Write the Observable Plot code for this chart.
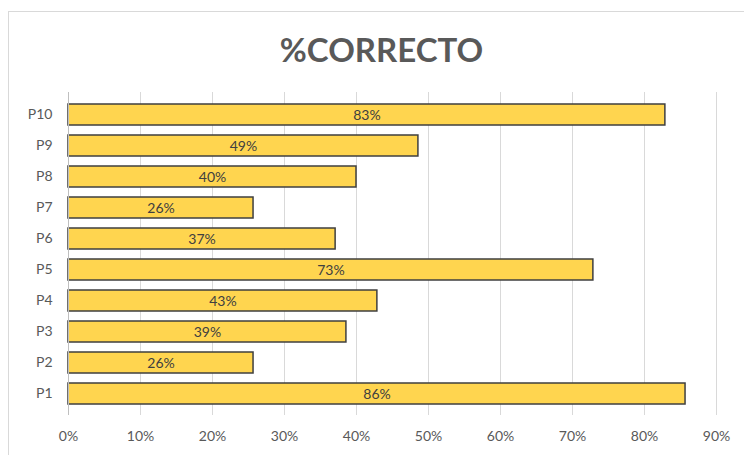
<!DOCTYPE html>
<html><head><meta charset="utf-8">
<script src="https://cdn.jsdelivr.net/npm/d3@7"></script>
<script src="https://cdn.jsdelivr.net/npm/@observablehq/plot@0.6"></script>
<style>
body{margin:0;background:#fff;}
#wrap{position:relative;width:744px;height:455px;overflow:hidden;font-family:Lato,"Open Sans",sans-serif;}
#frame{position:absolute;left:8px;top:11px;width:760px;height:460px;border:1px solid #d9d9d9;box-sizing:border-box;}
#title{position:absolute;left:0;width:763px;top:29px;text-align:center;font-size:33px;line-height:40px;font-weight:bold;color:#595959;}
#chart{position:absolute;left:0;top:0;}
</style></head>
<body>
<div id="wrap"><div id="frame"></div><div id="chart"></div><div id="title">%CORRECTO</div></div>
<script>
const categories = ["P1","P2","P3","P4","P5","P6","P7","P8","P9","P10"];
const values = [0.857,0.257,0.386,0.429,0.729,0.371,0.257,0.400,0.486,0.829];
const xTicks = [0,0.1,0.2,0.3,0.4,0.5,0.6,0.7,0.8,0.9];
const data = categories.map((c,i)=>({cat:c,value:values[i]}));
const fmt = d3.format(".0%");
const chart = Plot.plot({
  width:744, height:455,
  marginLeft:68, marginRight:28, marginTop:92, marginBottom:40,
  style:{fontFamily:"Lato, 'Open Sans', sans-serif", fontSize:"13px", color:"#595959", background:"transparent"},
  x:{domain:[0,0.9], ticks:xTicks, tickFormat:fmt, label:null, tickSize:0, tickPadding:16},
  y:{domain:categories.slice().reverse(), padding:0.33, label:null, tickSize:0, tickPadding:16},
  marks:[
    Plot.gridX(xTicks,{stroke:"#d9d9d9", strokeOpacity:1}),
    Plot.barX(data,{x:"value", y:"cat", fill:"#FFD54F", stroke:"#3f3f3f", strokeWidth:1.5}),
    Plot.ruleX([0],{stroke:"#bfbfbf"}),
    Plot.text(data,{x:d=>d.value/2, y:"cat", text:d=>fmt(d.value), fill:"#404040", fontSize:14, dy:1}),
    Plot.axisX({ticks:xTicks, tickFormat:fmt, tickSize:0, tickPadding:16, label:null, fill:"#595959", fontSize:14}),
    Plot.axisY({tickSize:0, tickPadding:16, label:null, fill:"#595959", fontSize:14})
  ]
});
document.getElementById("chart").appendChild(chart);
</script>
</body></html>
